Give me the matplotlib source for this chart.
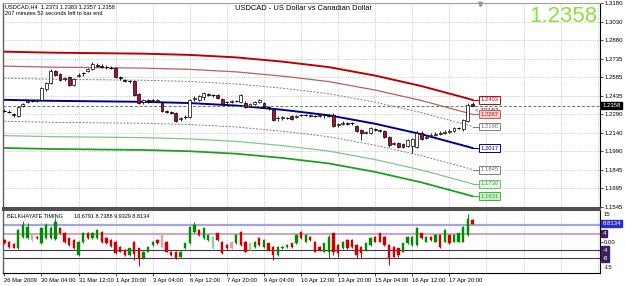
import numpy as np
import matplotlib
matplotlib.use("Agg")
import matplotlib.pyplot as plt

plt.rcParams['font.family'] = ['Liberation Sans', 'DejaVu Sans']

# ---------------- price candles (USDCAD H4) ----------------
opens = [1.2316, 1.2308, 1.2292, 1.2276, 1.2356, 1.2388, 1.2396, 1.2396, 1.2404, 1.2492,
         1.2540, 1.2636, 1.2612, 1.2572, 1.2588, 1.2524, 1.2596, 1.2620, 1.2636, 1.2652,
         1.2684, 1.2676, 1.2668, 1.2660, 1.2660, 1.2588, 1.2564, 1.2556, 1.2556, 1.2452,
         1.2388, 1.2404, 1.2404, 1.2396, 1.2380, 1.2316, 1.2308, 1.2300, 1.2252, 1.2268,
         1.2268, 1.2412, 1.2404, 1.2428, 1.2452, 1.2444, 1.2444, 1.2412, 1.2388, 1.2388,
         1.2396, 1.2388, 1.2380, 1.2356, 1.2372, 1.2388, 1.2380, 1.2348, 1.2324, 1.2260,
         1.2260, 1.2260, 1.2276, 1.2268, 1.2284, 1.2284, 1.2276, 1.2276, 1.2276, 1.2284,
         1.2284, 1.2284, 1.2204, 1.2212, 1.2220, 1.2220, 1.2196, 1.2164, 1.2140, 1.2140,
         1.2172, 1.2156, 1.2156, 1.2108, 1.2052, 1.2060, 1.2052, 1.2036, 1.2036, 1.2028,
         1.2140, 1.2100, 1.2116, 1.2124, 1.2132, 1.2140, 1.2148, 1.2156, 1.2180, 1.2172,
         1.2236, 1.2373]
closes = [1.2316, 1.2308, 1.2284, 1.2348, 1.2372, 1.2396, 1.2396, 1.2404, 1.2500, 1.2540,
          1.2636, 1.2604, 1.2564, 1.2580, 1.2524, 1.2572, 1.2604, 1.2620, 1.2652, 1.2692,
          1.2676, 1.2668, 1.2668, 1.2660, 1.2588, 1.2580, 1.2556, 1.2556, 1.2444, 1.2380,
          1.2404, 1.2396, 1.2404, 1.2404, 1.2316, 1.2308, 1.2300, 1.2236, 1.2260, 1.2268,
          1.2404, 1.2420, 1.2436, 1.2460, 1.2444, 1.2444, 1.2420, 1.2372, 1.2388, 1.2396,
          1.2396, 1.2444, 1.2348, 1.2372, 1.2388, 1.2404, 1.2348, 1.2340, 1.2244, 1.2260,
          1.2268, 1.2260, 1.2252, 1.2276, 1.2284, 1.2284, 1.2284, 1.2276, 1.2284, 1.2284,
          1.2276, 1.2196, 1.2212, 1.2220, 1.2212, 1.2220, 1.2156, 1.2140, 1.2148, 1.2180,
          1.2164, 1.2164, 1.2108, 1.2044, 1.2060, 1.2028, 1.2028, 1.2084, 1.2092, 1.2140,
          1.2092, 1.2108, 1.2124, 1.2132, 1.2140, 1.2148, 1.2156, 1.2180, 1.2180, 1.2244,
          1.2364, 1.2358]
highs = [1.2332, 1.2324, 1.2300, 1.2356, 1.2380, 1.2404, 1.2404, 1.2412, 1.2508, 1.2548,
         1.2652, 1.2644, 1.2620, 1.2588, 1.2596, 1.2580, 1.2620, 1.2628, 1.2660, 1.2708,
         1.2700, 1.2692, 1.2684, 1.2676, 1.2668, 1.2596, 1.2572, 1.2564, 1.2564, 1.2460,
         1.2412, 1.2412, 1.2412, 1.2412, 1.2388, 1.2324, 1.2316, 1.2308, 1.2268, 1.2284,
         1.2412, 1.2436, 1.2444, 1.2468, 1.2460, 1.2452, 1.2452, 1.2420, 1.2396, 1.2404,
         1.2404, 1.2452, 1.2396, 1.2380, 1.2396, 1.2412, 1.2388, 1.2356, 1.2332, 1.2276,
         1.2276, 1.2268, 1.2284, 1.2284, 1.2292, 1.2292, 1.2292, 1.2284, 1.2292, 1.2292,
         1.2292, 1.2300, 1.2220, 1.2236, 1.2228, 1.2228, 1.2204, 1.2172, 1.2156, 1.2188,
         1.2180, 1.2172, 1.2164, 1.2116, 1.2068, 1.2068, 1.2060, 1.2092, 1.2100, 1.2156,
         1.2156, 1.2116, 1.2140, 1.2148, 1.2156, 1.2164, 1.2172, 1.2188, 1.2188, 1.2252,
         1.2380, 1.2383]
lows = [1.2308, 1.2300, 1.2268, 1.2268, 1.2348, 1.2380, 1.2388, 1.2388, 1.2396, 1.2476,
        1.2532, 1.2596, 1.2556, 1.2556, 1.2516, 1.2516, 1.2588, 1.2596, 1.2628, 1.2644,
        1.2668, 1.2660, 1.2652, 1.2652, 1.2580, 1.2564, 1.2548, 1.2540, 1.2436, 1.2372,
        1.2372, 1.2380, 1.2388, 1.2388, 1.2308, 1.2300, 1.2292, 1.2228, 1.2236, 1.2252,
        1.2260, 1.2396, 1.2396, 1.2404, 1.2436, 1.2428, 1.2412, 1.2364, 1.2372, 1.2380,
        1.2388, 1.2380, 1.2340, 1.2348, 1.2364, 1.2380, 1.2340, 1.2324, 1.2236, 1.2236,
        1.2244, 1.2252, 1.2244, 1.2260, 1.2276, 1.2276, 1.2268, 1.2268, 1.2268, 1.2260,
        1.2268, 1.2188, 1.2188, 1.2204, 1.2204, 1.2204, 1.2148, 1.2084, 1.2132, 1.2132,
        1.2156, 1.2148, 1.2100, 1.2028, 1.2044, 1.2020, 1.2020, 1.2028, 1.1980, 1.2020,
        1.2084, 1.2092, 1.2108, 1.2116, 1.2124, 1.2132, 1.2140, 1.2148, 1.2172, 1.2156,
        1.2228, 1.2357]
last_price = 1.2358

# ---------------- regression channel ----------------
chan_x = [0, 10, 20, 30, 40, 50, 60, 70, 80, 90, 100, 101]
chan_mid = [1.2404, 1.2396, 1.2392, 1.2388, 1.2378, 1.2358, 1.2324, 1.2280, 1.2212, 1.2128, 1.2028, 1.2017]
chan_red = [1.2790, 1.2782, 1.2778, 1.2774, 1.2764, 1.2744, 1.2710, 1.2666, 1.2598, 1.2514, 1.2414, 1.2403]
chan_brown = [1.2674, 1.2666, 1.2662, 1.2658, 1.2648, 1.2628, 1.2594, 1.2550, 1.2482, 1.2398, 1.2298, 1.2287]
chan_gray_up = [1.2577, 1.2569, 1.2565, 1.2561, 1.2551, 1.2531, 1.2497, 1.2453, 1.2385, 1.2301, 1.2201, 1.2190]
chan_gray_dn = [1.2232, 1.2224, 1.2220, 1.2216, 1.2206, 1.2186, 1.2152, 1.2108, 1.2040, 1.1956, 1.1856, 1.1845]
chan_lgreen = [1.2117, 1.2109, 1.2105, 1.2101, 1.2091, 1.2071, 1.2037, 1.1993, 1.1925, 1.1841, 1.1741, 1.1730]
chan_green = [1.2018, 1.2010, 1.2006, 1.2002, 1.1992, 1.1972, 1.1938, 1.1894, 1.1826, 1.1742, 1.1642, 1.1631]

# ---------------- Belkhayate timing ----------------
t_open = [1.0, 0.0, -1.2, -3.2, 2.5, 2.0, 4.0, 2.5, -0.6, 2.0,
          1.9, 1.5, 6.7, 4.3, 1.7, 0.9, -6.4, 0.0, 4.3, 1.7,
          1.9, 4.8, 1.7, 1.0, 0.0, -2.4, -4.0, -6.4, 0.0, -3.2,
          -8.0, -4.8, -1.6, 0.9, 4.1, 0.1, -4.8, -4.8, -7.2, -3.2,
          -0.8, 4.9, 5.8, 1.7, 0.9, -3.2, 4.1, 0.1, -1.6, 0.1,
          -0.8, 4.9, 0.1, -4.0, -2.4, 1.7, -2.4, -0.8, -2.4, -6.4,
          -3.2, -2.4, -0.8, -0.8, 4.9, 0.1, 2.5, 0.1, -2.4, -4.8,
          -4.8, 4.1, -1.6, -3.2, 0.9, 0.9, -1.6, -2.4, -4.0, -1.6,
          2.5, 4.1, 2.5, -1.6, -2.4, -3.2, -4.8, -0.8, -1.6, -1.6,
          4.1, 0.1, 2.5, 0.1, 3.3, 0.1, 3.3, 0.1, 0.1, 0.1,
          3.3, 10.68]
t_close = [-0.5, -2.4, -2.9, 5.8, 8.2, 7.0, 0.8, 1.7, 6.7, 8.2,
           6.7, 9.8, 4.3, 0.0, -1.6, -3.0, 0.0, 4.3, 1.7, 4.3,
           5.8, -0.1, -0.7, -2.0, -5.6, -4.8, -6.4, -3.2, -6.0, -8.0,
           -4.8, -2.4, 0.0, -0.8, -2.4, -4.8, -6.4, -8.1, -4.8, -0.8,
           7.4, 8.2, 3.3, 6.7, 3.3, 2.5, 0.9, -5.6, -3.2, -3.2,
           3.3, -1.6, -4.8, -0.8, 0.1, -1.6, 0.9, -4.0, -6.4, -2.4,
           -2.4, -1.6, -2.4, 3.3, 1.7, 3.3, 0.9, -4.8, -4.0, -0.8,
           2.5, -4.8, -5.6, 0.1, -3.2, -2.4, -6.4, -5.6, -0.8, 1.7,
           0.1, 0.1, -1.6, -8.1, -7.2, -6.4, -0.8, 2.5, 2.5, 6.7,
           1.7, 2.5, 0.9, 3.3, -2.4, 5.8, -0.8, 3.3, 4.1, 7.4,
           11.0, 8.81]
t_high = [1.5, 0.5, -0.8, 6.2, 10.0, 9.0, 4.3, 3.0, 7.2, 9.0,
          7.5, 11.5, 7.2, 4.6, 2.0, 1.2, 0.5, 4.8, 4.8, 4.8,
          6.3, 5.3, 2.2, 1.4, 0.4, -2.0, -3.6, -2.8, 0.4, -2.8,
          -4.4, -2.0, 0.4, 1.3, 4.5, 0.5, -4.4, -4.4, -4.4, -0.4,
          7.8, 9.8, 6.2, 7.1, 3.7, 2.9, 4.5, 0.5, -1.2, 0.5,
          3.7, 5.3, 0.5, -0.4, 0.5, 2.1, 1.3, -0.4, -2.0, -2.0,
          -2.0, -1.2, -0.4, 3.7, 5.3, 3.7, 2.9, 0.5, -2.0, -0.4,
          3.3, 4.5, -1.2, 0.5, 1.3, 1.3, -1.2, -2.0, -0.4, 2.1,
          2.9, 4.5, 2.9, -1.2, -2.0, -2.8, -0.4, 2.9, 2.9, 7.1,
          4.5, 2.9, 2.9, 3.7, 3.7, 6.2, 3.7, 3.7, 4.5, 7.8,
          13.5, 10.9]
t_low = [-1.0, -2.8, -3.2, -3.5, 2.0, 1.5, 0.5, 1.2, -1.0, 1.5,
         1.5, 1.0, 4.0, -0.4, -2.0, -3.4, -6.8, -0.4, 1.3, 1.3,
         1.5, -0.5, -1.1, -2.4, -6.0, -5.2, -6.8, -6.8, -8.9, -12.0,
         -8.4, -5.2, -2.0, -1.2, -2.8, -5.2, -6.8, -8.5, -7.6, -3.6,
         -1.2, 4.5, 2.9, 1.3, 0.5, -3.6, 0.5, -6.0, -3.6, -3.6,
         -1.2, -2.0, -5.2, -4.4, -2.8, -2.0, -2.8, -4.4, -8.9, -6.8,
         -3.6, -2.8, -2.8, -1.2, 1.3, -0.3, 0.5, -5.2, -4.4, -5.2,
         -8.1, -6.4, -7.2, -3.6, -3.6, -2.8, -8.1, -8.1, -4.4, -2.0,
         -0.3, -0.3, -2.0, -11.3, -7.6, -7.2, -5.2, -1.2, -2.0, -2.0,
         1.3, -0.3, 0.5, -0.3, -2.8, -0.3, -1.2, -0.3, -0.3, -0.3,
         2.9, 8.74]
t_kind = ("r r r g g g p r g g "
          "g g r r r r g g r g "
          "g r r r r r r g r r "
          "g g g r p r r r g g "
          "g g r g g lg r r r p "
          "g r r lg g r g r r g "
          "g g r g r g r r r g "
          "g r r g r r r r g g "
          "r r r r r r g g g g "
          "r g r g r g r g g g "
          "g r").split()
t_levels = [8, 4, -4, -8]

date_pos = [0, 8, 16, 24, 32, 40, 48, 56, 64, 72, 80, 88, 96]
date_labels = ["26 Mar 2009", "30 Mar 04:00", "31 Mar 12:00", "1 Apr 20:00", "3 Apr 04:00",
               "6 Apr 12:00", "7 Apr 20:00", "9 Apr 04:00", "10 Apr 12:00", "13 Apr 20:00",
               "15 Apr 04:00", "16 Apr 12:00", "17 Apr 20:00"]
price_ticks = [1.1545, 1.1695, 1.1845, 1.1990, 1.2140, 1.2290, 1.2435, 1.2585,
               1.2735, 1.2880, 1.3030, 1.3180]

# ---------------- figure ----------------
W, H = 625, 286
fig = plt.figure(figsize=(W / 100, H / 100), dpi=100)
ax = fig.add_axes([3 / W, 1 - 208 / H, 597 / W, 205 / H])
ax2 = fig.add_axes([3 / W, 1 - 273 / H, 597 / W, 63 / H])

xmin, xmax = -0.3, 128.5
grid_x = np.arange(8, 129, 8)
grid_style = dict(color='#B8B8B8', linestyle=(0, (1, 1.6)), linewidth=0.6, zorder=0)

# main panel
ax.set_xlim(xmin, xmax)
ax.set_ylim(1.1537, 1.3180)
ax.set_xticks([])
ax.set_yticks(price_ticks)
ax.set_yticklabels(['%.4f' % p for p in price_ticks])
ax.yaxis.tick_right()
ax.tick_params(axis='y', labelsize=4.3, length=2, pad=1, width=0.5)
for gx in grid_x:
    ax.axvline(gx, **grid_style)
for gy in price_ticks:
    ax.axhline(gy, **grid_style)
for s, c, w in [('top', '#A0A0A0', 0.8), ('left', '#606060', 1.0),
                ('right', 'black', 0.8), ('bottom', '#505050', 1.5)]:
    ax.spines[s].set_color(c)
    ax.spines[s].set_linewidth(w)

# channel lines
ax.plot(chan_x, chan_red, color='#C00000', lw=1.4)
ax.plot(chan_x, chan_brown, color='#B86060', lw=0.9)
ax.plot(chan_x, chan_gray_up, color='#808080', lw=0.7, ls=(0, (2, 1.5)))
ax.plot(chan_x, chan_mid, color='#000090', lw=1.4)
ax.plot(chan_x, chan_gray_dn, color='#808080', lw=0.7, ls=(0, (2, 1.5)))
ax.plot(chan_x, chan_lgreen, color='#80C880', lw=0.9)
ax.plot(chan_x, chan_green, color='#20A020', lw=1.3)

# bid line
ax.axhline(last_price, color='#5A7A5A', lw=0.7, ls=(0, (3, 2)))

# candles
x = np.arange(len(opens))
o = np.array(opens); c = np.array(closes); h = np.array(highs); l = np.array(lows)
ax.vlines(x, l, h, color='black', lw=0.6, zorder=3)
up = c >= o
face = np.where(up, 'white', '#B01030')
ax.bar(x, np.abs(c - o), bottom=np.minimum(o, c), width=0.62, color=face,
       edgecolor='black', linewidth=0.5, zorder=4)
doji = np.isclose(o, c)
ax.hlines(o[doji], x[doji] - 0.35, x[doji] + 0.35, color='black', lw=0.7, zorder=4)

# channel end labels
end_lab = [(chan_red[-1], '#C80000', 'white', '#C00000'),
           (chan_brown[-1], '#C06060', '#F2CACA', '#A83030'),
           (chan_gray_up[-1], '#808080', 'white', '#707070'),
           (chan_mid[-1], '#000090', 'white', '#000090'),
           (chan_gray_dn[-1], '#808080', 'white', '#707070'),
           (chan_lgreen[-1], '#70C070', '#E6F6E6', '#50A050'),
           (chan_green[-1], '#40B040', '#C8F0C8', '#30A030')]
lab_x = 102.7
for v, ec, fc, tc in end_lab:
    ax.plot([chan_x[-1], lab_x], [v, v], color=ec, lw=0.8)
    ax.text(lab_x, v, '%.4f' % v, fontsize=4.2, color=tc, va='center', ha='left',
            bbox=dict(boxstyle='square,pad=0.25', fc=fc, ec=ec, lw=0.7), zorder=6)

ax.text(101.6, 1.2322, '< 207:52', fontsize=4.3, color='#303030', va='center', ha='left')
ax.plot([102.6], [1.3168], marker='v', ms=3, color='#909090', clip_on=False)

ax.text(1.004, last_price, '%.4f' % last_price, transform=ax.get_yaxis_transform(),
        fontsize=4.3, color='white', va='center', ha='left',
        bbox=dict(boxstyle='square,pad=0.2', fc='black', ec='black'))

# lower panel
ax2.set_xlim(xmin, xmax)
ax2.set_ylim(-15.2, 15.5)
ax2.set_xticks(date_pos)
ax2.set_xticklabels(date_labels)
ax2.tick_params(axis='x', labelsize=4.2, length=2, pad=1.5, width=0.5)
plt.setp(ax2.get_xticklabels(), ha='left')
for gx in grid_x:
    ax2.axvline(gx, **grid_style)
ax2.yaxis.tick_right()
ax2.set_yticks([0])
ax2.set_yticklabels(['0.00'])
ax2.tick_params(axis='y', labelsize=4.3, length=2, pad=1, width=0.5)
# end-of-scale labels sit just inside the panel, as in the terminal
ax2.text(1.006, 0.93, '15', transform=ax2.transAxes, fontsize=4.3, va='center', ha='left')
ax2.text(1.006, 0.08, '-15', transform=ax2.transAxes, fontsize=4.3, va='center', ha='left')
for s, cc, w in [('top', '#505050', 1.5), ('left', '#606060', 1.0),
                 ('right', 'black', 0.8), ('bottom', 'black', 0.8)]:
    ax2.spines[s].set_color(cc)
    ax2.spines[s].set_linewidth(w)

ax2.axhline(t_levels[0], color='#A4A4E4', lw=1.6)
ax2.axhline(t_levels[1], color='#C8A8C8', lw=1.5)
ax2.axhline(t_levels[2], color='#503050', lw=0.8)
ax2.axhline(t_levels[3], color='#503050', lw=0.8)

kind_col = {'g': '#008C00', 'r': '#D00000', 'lg': '#90D090', 'p': '#E8A0A8'}
tx = np.arange(len(t_open))
tcols = [kind_col[k] for k in t_kind]
ax2.vlines(tx, t_low, t_high, colors=tcols, lw=0.7, zorder=3)
to = np.array(t_open); tc_ = np.array(t_close)
ax2.bar(tx, np.abs(tc_ - to), bottom=np.minimum(to, tc_), width=0.5, color=tcols,
        edgecolor=tcols, linewidth=0.3, zorder=4)

yt2 = ax2.get_yaxis_transform()
ax2.text(1.004, 8.8134, '8.8134', transform=yt2, fontsize=4.3, color='white', va='center',
         ha='left', bbox=dict(boxstyle='square,pad=0.2', fc='#2C2CC8', ec='#2C2CC8'))
for v in [4, -4, -8]:
    ax2.text(1.004, v, '%d' % v, transform=yt2, fontsize=4.3, color='white', va='center',
             ha='left', bbox=dict(boxstyle='square,pad=0.2', fc='#3A2060', ec='#3A2060'))

# header texts
fig.text(5 / W, 1 - 7 / H, 'USDCAD,H4  1.2373 1.2383 1.2357 1.2358', fontsize=4.1, va='center')
fig.text(5 / W, 1 - 13.5 / H, '207 minutes 52 seconds left to bar end', fontsize=4.1, va='center')
fig.text(235 / W, 1 - 8 / H, 'USDCAD - US Dollar vs Canadian Dollar', fontsize=5.4, va='center')
fig.text(597 / W, 1 - 16 / H, '%.4f' % last_price, fontsize=16, color='#8CE03C',
         va='center', ha='right')
fig.text(7 / W, 1 - 216 / H, 'BELKHAYATE TIMING', fontsize=4.0, va='center')
fig.text(74 / W, 1 - 216 / H, '10.6791 8.7388 9.9329 8.8134', fontsize=4.0, va='center')

fig.savefig('out.png', dpi=100)
